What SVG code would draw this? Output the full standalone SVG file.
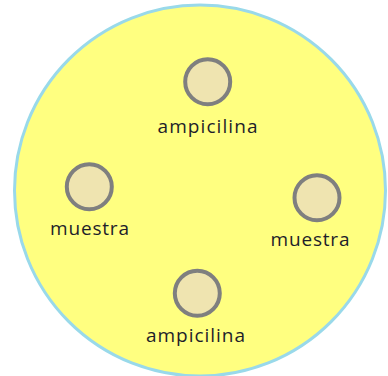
<svg xmlns="http://www.w3.org/2000/svg" width="388" height="376" viewBox="0 0 388 376">
<style>
.well{fill:#efe4b0;stroke:#7f7f7f;stroke-width:4}
.lbl{font-family:"Open Sans","Liberation Sans",sans-serif;font-size:19px;fill:#1e1e2a;text-anchor:middle}
</style>
<rect width="388" height="376" fill="#ffffff"/>
<g id="plate"><circle cx="200" cy="190.5" r="185.5" fill="#ffff80" stroke="#99d9ea" stroke-width="3"/></g>
<g id="top"><circle class="well" cx="207.7" cy="81.7" r="22.5"/><text class="lbl" x="207.5" y="133" textLength="100" lengthAdjust="spacing">ampicilina</text></g>
<g id="left"><circle class="well" cx="89.3" cy="186.7" r="22.5"/><text class="lbl" x="89.5" y="235" textLength="79" lengthAdjust="spacing">muestra</text></g>
<g id="right"><circle class="well" cx="317" cy="197.8" r="22.5"/><text class="lbl" x="310" y="245.5" textLength="79" lengthAdjust="spacing">muestra</text></g>
<g id="bottom"><circle class="well" cx="197.3" cy="293.3" r="22.5"/><text class="lbl" x="195.5" y="342" textLength="99" lengthAdjust="spacing">ampicilina</text></g>
<g id="connectors"/>
</svg>
